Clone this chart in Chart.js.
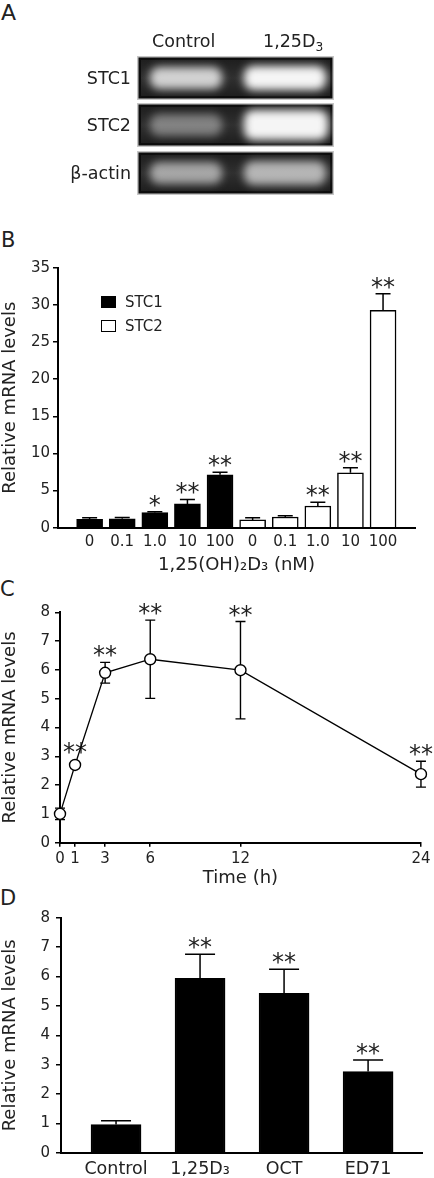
<!DOCTYPE html>
<html>
<head>
<meta charset="utf-8">
<script src="https://cdn.jsdelivr.net/npm/chart.js@4.4.1/dist/chart.umd.min.js"></script>
<style>
  body { margin: 0; background: #fff; font-family: "DejaVu Sans", sans-serif; color: #222; }
  #page { position: relative; width: 434px; height: 1178px; overflow: hidden; }
  .abs { position: absolute; line-height: 1; white-space: nowrap; }
  .letter { font-size: 21px; }
  .gelText { font-size: 17.5px; }
  .rowLabel { right: 303px; text-align: right; }
  .chartBox { position: absolute; }
  .legItem { position: absolute; left: 101px; font-size: 15px; line-height: 1; }
  .legItem span.sw { position: absolute; left: 0; width: 13px; height: 10px; border: 1.5px solid #000; }
  .legItem span.tx { position: absolute; left: 24px; top: -1px; }
  sub { font-size: 70%; vertical-align: -0.3em; line-height: 0; }
</style>
</head>
<body>
<div id="page">
  <div class="abs letter" style="left:1px;top:1.5px;font-size:22px">A</div>
  <div class="abs letter" style="left:1px;top:229.5px">B</div>
  <div class="abs letter" style="left:0px;top:579px">C</div>
  <div class="abs letter" style="left:0px;top:887.5px">D</div>

  <canvas id="gel" width="434" height="200" style="position:absolute;left:0;top:0"></canvas>
  <div id="gelLabels"></div>

  <div class="chartBox" style="left:0;top:240px;width:434px;height:340px"><canvas id="chartB"></canvas></div>
  <div id="legendB"></div>
  <div class="chartBox" style="left:0;top:595px;width:434px;height:298px"><canvas id="chartC"></canvas></div>
  <div class="chartBox" style="left:0;top:900px;width:434px;height:278px"><canvas id="chartD"></canvas></div>
</div>

<script>
// panel A (gel)
const gelRows = ["STC1", "STC2", "β-actin"];
const gelLanes = ["Control", "1,25D<sub>3</sub>"];
const controlBand = [0.82, 0.42, 0.6];
const treatedBand = [1.0, 1.0, 0.68];

// panel B
const doseLabels = ["0", "0.1", "1.0", "10", "100", "0", "0.1", "1.0", "10", "100"];
const stc1Mean = [1.13, 1.21, 2.02, 3.2, 7.13];
const stc1Err = [0.22, 0.15, 0.13, 0.6, 0.32];
const stc1Stars = ["", "", "*", "**", "**"];
const stc2Mean = [1.05, 1.44, 2.92, 7.4, 29.26];
const stc2Err = [0.3, 0.18, 0.5, 0.67, 2.24];
const stc2Stars = ["", "", "**", "**", "**"];

// panel C
const timeHours = [0, 1, 3, 6, 12, 24];
const timeMean = [1.0, 2.7, 5.9, 6.37, 5.99, 2.38];
const timeErr = [0.2, 0.1, 0.36, 1.36, 1.69, 0.45];
const timeStars = ["", "**", "**", "**", "**", "**"];
const timeTicks = [0, 1, 3, 6, 12, 24];

// panel D
const treatLabels = ["Control", "1,25D₃", "OCT", "ED71"];
const treatMean = [0.97, 5.94, 5.43, 2.77];
const treatErr = [0.13, 0.82, 0.82, 0.39];
const treatStars = ["", "**", "**", "**"];

Chart.defaults.font.family = "DejaVu Sans";
Chart.defaults.color = "#222";

// error bars + significance stars, drawn with the chart's own y scale
function drawErrors(chart, opts) {
  if (!opts || !opts.series) return;
  const ctx = chart.ctx;
  const yScale = chart.scales.y;
  ctx.save();
  ctx.strokeStyle = "#000";
  ctx.lineWidth = opts.lineWidth;
  ctx.fillStyle = "#222";
  ctx.font = opts.starFont;
  ctx.textAlign = "center";
  ctx.textBaseline = "alphabetic";
  const m = ctx.measureText("*");
  const starMid = (m.actualBoundingBoxAscent - m.actualBoundingBoxDescent) / 2;
  opts.series.forEach((s, di) => {
    const meta = chart.getDatasetMeta(di);
    meta.data.forEach((el, i) => {
      const x = el.x;
      const hi = yScale.getPixelForValue(s.mean[i] + s.err[i]);
      const lo = opts.both ? yScale.getPixelForValue(s.mean[i] - s.err[i]) : el.y;
      const half = opts.cap / 2;
      ctx.beginPath();
      ctx.moveTo(x, lo);
      ctx.lineTo(x, hi);
      ctx.moveTo(x - half, hi);
      ctx.lineTo(x + half, hi);
      if (opts.both) {
        ctx.moveTo(x - half, lo);
        ctx.lineTo(x + half, lo);
      }
      ctx.stroke();
      if (s.stars[i]) {
        const top = Math.min(hi, el.y - (opts.markerRadius || 0));
        ctx.fillText(s.stars[i], x, top - opts.starGap + starMid);
      }
    });
  });
  ctx.restore();
}

const errorBars = {
  id: "errorBars",
  beforeDatasetsDraw(chart, args, opts) { if (opts.under) drawErrors(chart, opts); },
  afterDatasetsDraw(chart, args, opts) { if (!opts.under) drawErrors(chart, opts); }
};
Chart.register(errorBars);

function yAxis(max, width, fontSize, pad) {
  return {
    min: 0,
    max: max,
    ticks: { stepSize: max > 10 ? 5 : 1, font: { size: fontSize }, padding: pad, color: "#222" },
    grid: { drawOnChartArea: false, tickLength: 5, color: "#000", lineWidth: 1.5 },
    border: { color: "#000", width: 2 },
    title: { display: true, text: "Relative mRNA levels", font: { size: 18 }, padding: 0, color: "#222" },
    afterFit: (s) => { s.width = width; }
  };
}

///////////////////////////////////////////////////////////
// GEL
function drawGel() {
  const ctx = document.getElementById("gel").getContext("2d");
  const left = 138, width = 195, height = 42;
  const tops = [57, 104, 152];
  const labels = document.getElementById("gelLabels");

  gelLanes.forEach((lane, i) => {
    const d = document.createElement("div");
    d.className = "abs gelText";
    d.innerHTML = lane;
    d.style.top = "33.3px";
    d.style.left = i === 0 ? "152px" : "263px";
    labels.appendChild(d);
  });

  gelRows.forEach((name, r) => {
    const top = tops[r];
    ctx.fillStyle = "#c6c6c6";
    ctx.fillRect(left - 1, top - 1, width + 2, height + 2);
    ctx.fillStyle = "#0d0d0d";
    ctx.fillRect(left + 0.5, top + 0.5, width - 1, height - 1);
    const g = ctx.createLinearGradient(0, top, 0, top + height);
    g.addColorStop(0, "#1c1c1c");
    g.addColorStop(0.5, "#303030");
    g.addColorStop(1, "#1c1c1c");
    ctx.fillStyle = g;
    ctx.fillRect(left + 3, top + 3, width - 6, height - 6);

    band(ctx, 150, top + 10, 72, 22, controlBand[r]);
    if (r === 1) band(ctx, 244, top + 6, 84, 30, treatedBand[r]);
    else band(ctx, 244, top + 9, 82, 24, treatedBand[r]);

    const d = document.createElement("div");
    d.className = "abs gelText rowLabel";
    d.textContent = name;
    d.style.top = (top + 21 - 8.4) + "px";
    labels.appendChild(d);
  });
}

function band(ctx, x, y, w, h, a) {
  ctx.save();
  ctx.filter = "blur(4px)";
  ctx.fillStyle = "rgba(245,245,245," + a + ")";
  ctx.beginPath();
  ctx.roundRect(x, y, w, h, 9);
  ctx.fill();
  ctx.restore();
}

drawGel();

///////////////////////////////////////////////////////////
// PANEL B
const chartB = new Chart(document.getElementById("chartB"), {
  type: "bar",
  data: {
    datasets: [
      {
        label: "STC1",
        data: stc1Mean.map((v, i) => ({ x: i, y: v })),
        backgroundColor: "#000",
        borderColor: "#000",
        borderWidth: 1.5,
        barThickness: 26,
        grouped: false
      },
      {
        label: "STC2",
        data: stc2Mean.map((v, i) => ({ x: i + stc1Mean.length, y: v })),
        backgroundColor: "#fff",
        borderColor: "#000",
        borderWidth: 1.5,
        barThickness: 26,
        grouped: false
      }
    ]
  },
  options: {
    animation: false,
    responsive: true,
    maintainAspectRatio: false,
    events: [],
    layout: { padding: { left: 0, top: 27.7, right: 19, bottom: 0 } },
    plugins: {
      legend: { display: false },
      tooltip: { enabled: false },
      errorBars: {
        series: [
          { mean: stc1Mean, err: stc1Err, stars: stc1Stars },
          { mean: stc2Mean, err: stc2Err, stars: stc2Stars }
        ],
        cap: 15,
        lineWidth: 1.5,
        starFont: "24px DejaVu Sans",
        starGap: 11
      }
    },
    scales: {
      x: {
        type: "linear",
        offset: false,
        min: -0.97,
        max: 9.98,
        z: 1,
        afterBuildTicks: (s) => { s.ticks = doseLabels.map((_, i) => ({ value: i })); },
        ticks: { callback: (v) => doseLabels[v], font: { size: 15 }, padding: 5.5, maxRotation: 0, autoSkip: false, color: "#222" },
        grid: { drawOnChartArea: false, drawTicks: false },
        border: { color: "#000", width: 2 },
        title: { display: true, text: "1,25(OH)₂D₃ (nM)", font: { size: 18 }, padding: { top: 0, bottom: 4 }, color: "#222" },
        afterFit: (s) => { s.height = 52.3; }
      },
      y: yAxis(35, 58, 15, 3)
    }
  }
});

// html legend built from the chart's own legend items
const legendItems = chartB.options.plugins.legend.labels.generateLabels(chartB);
const legendB = document.getElementById("legendB");
legendItems.forEach((item, i) => {
  const row = document.createElement("div");
  row.className = "legItem";
  row.style.top = (295.7 + i * 24.3) + "px";
  const sw = document.createElement("span");
  sw.className = "sw";
  sw.style.background = item.fillStyle;
  const tx = document.createElement("span");
  tx.className = "tx";
  tx.textContent = item.text;
  row.appendChild(sw);
  row.appendChild(tx);
  legendB.appendChild(row);
});

///////////////////////////////////////////////////////////
// PANEL C
new Chart(document.getElementById("chartC"), {
  type: "scatter",
  data: {
    datasets: [
      {
        label: "Time course",
        data: timeHours.map((t, i) => ({ x: t, y: timeMean[i] })),
        showLine: true,
        clip: false,
        borderColor: "#000",
        borderWidth: 1.3,
        pointRadius: 5.5,
        pointBackgroundColor: "#fff",
        pointBorderColor: "#000",
        pointBorderWidth: 1.4
      }
    ]
  },
  options: {
    animation: false,
    responsive: true,
    maintainAspectRatio: false,
    events: [],
    layout: { padding: { left: 0, top: 17.3, right: 12.3, bottom: 0 } },
    plugins: {
      legend: { display: false },
      tooltip: { enabled: false },
      errorBars: {
        series: [{ mean: timeMean, err: timeErr, stars: timeStars }],
        both: true,
        under: true,
        cap: 10,
        lineWidth: 1.4,
        markerRadius: 6,
        starFont: "24px DejaVu Sans",
        starGap: 11
      }
    },
    scales: {
      x: {
        type: "linear",
        offset: false,
        min: 0,
        max: 24,
        afterBuildTicks: (s) => { s.ticks = timeTicks.map((v) => ({ value: v })); },
        ticks: { font: { size: 15 }, padding: 3.5, maxRotation: 0, autoSkip: false, color: "#222" },
        grid: { drawOnChartArea: false, tickLength: 4, color: "#000", lineWidth: 1.5 },
        border: { color: "#000", width: 2 },
        title: { display: true, text: "Time (h)", font: { size: 18 }, padding: { top: 0, bottom: 4 }, color: "#222" },
        afterFit: (s) => { s.height = 50.3; }
      },
      y: yAxis(8, 60, 15, 5)
    }
  }
});

///////////////////////////////////////////////////////////
// PANEL D
new Chart(document.getElementById("chartD"), {
  type: "bar",
  data: {
    datasets: [
      {
        label: "Treatment",
        data: treatMean.map((v, i) => ({ x: i, y: v })),
        backgroundColor: "#000",
        borderColor: "#000",
        borderWidth: 1.5,
        barThickness: 50,
        grouped: false
      }
    ]
  },
  options: {
    animation: false,
    responsive: true,
    maintainAspectRatio: false,
    events: [],
    layout: { padding: { left: 0, top: 17.7, right: 11.3, bottom: 0 } },
    plugins: {
      legend: { display: false },
      tooltip: { enabled: false },
      errorBars: {
        series: [{ mean: treatMean, err: treatErr, stars: treatStars }],
        cap: 30,
        lineWidth: 1.5,
        starFont: "24px DejaVu Sans",
        starGap: 11
      }
    },
    scales: {
      x: {
        type: "linear",
        offset: false,
        min: -0.655,
        max: 3.65,
        z: 1,
        afterBuildTicks: (s) => { s.ticks = treatLabels.map((_, i) => ({ value: i })); },
        ticks: { callback: (v) => treatLabels[v], font: { size: 17.5 }, padding: 6, maxRotation: 0, autoSkip: false, color: "#222" },
        grid: { drawOnChartArea: false, drawTicks: false },
        border: { color: "#000", width: 2 },
        afterFit: (s) => { s.height = 25; }
      },
      y: yAxis(8, 61, 15, 6)
    }
  }
});
</script>
</body>
</html>
